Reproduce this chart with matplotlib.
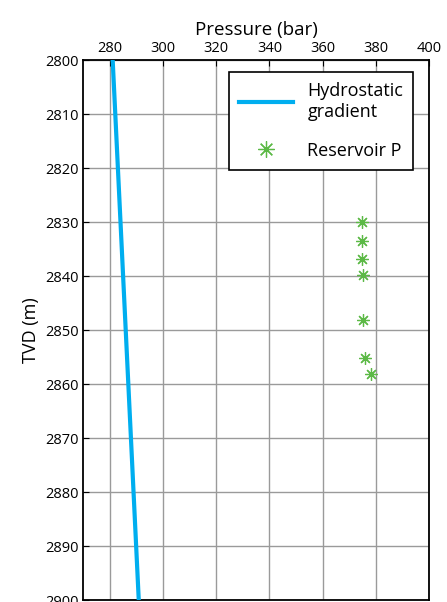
import matplotlib.pyplot as plt

# hydrostatic gradient end points
hydro_p = [281.1, 290.9]
hydro_tvd = [2800, 2900]

# reservoir pressure readings
res_p = [374.6, 374.8, 374.8, 375.2, 375.3, 375.8, 378.0]
res_tvd = [2829.9, 2833.4, 2836.8, 2839.7, 2848.1, 2855.2, 2858.1]

xticks = [280, 300, 320, 340, 360, 380, 400]
yticks = list(range(2800, 2901, 10))

plt.rcParams['font.family'] = ['Open Sans', 'DejaVu Sans']

fig = plt.figure(figsize=(4.47, 6.02), dpi=100)
ax = fig.add_axes([0.186, 0.003, 0.774, 0.897])

ax.plot(hydro_p, hydro_tvd, color='#00aeef', lw=3, label='Hydrostatic\ngradient', zorder=3)
ax.plot(res_p, res_tvd, ls='none', marker=(8, 2, 0), ms=9, mew=0.9,
        color='#5cb946', label='Reservoir P', zorder=3)

ax.set_xlim(270, 400)
ax.set_ylim(2900, 2800)
ax.set_xticks(xticks)
ax.set_yticks(yticks)
ax.xaxis.tick_top()
ax.xaxis.set_label_position('top')
ax.tick_params(direction='in', length=4, labelsize=10.5, pad=3)
ax.set_xlabel('Pressure (bar)', fontsize=13.5, labelpad=4)
ax.set_ylabel('TVD (m)', fontsize=13, labelpad=4)
ax.grid(True, color='#9a9a9a', lw=1)
for s in ax.spines.values():
    s.set_linewidth(1.3)
    s.set_color('black')

leg = ax.legend(loc='upper right', bbox_to_anchor=(0.954, 0.978), borderaxespad=0,
                fontsize=13, fancybox=False, edgecolor='black', framealpha=1,
                handlelength=3.0, handletextpad=0.8, labelspacing=1.15,
                borderpad=0.55, markerscale=1.3)
leg.get_frame().set_linewidth(1.2)

fig.savefig('out.png', dpi=100)
